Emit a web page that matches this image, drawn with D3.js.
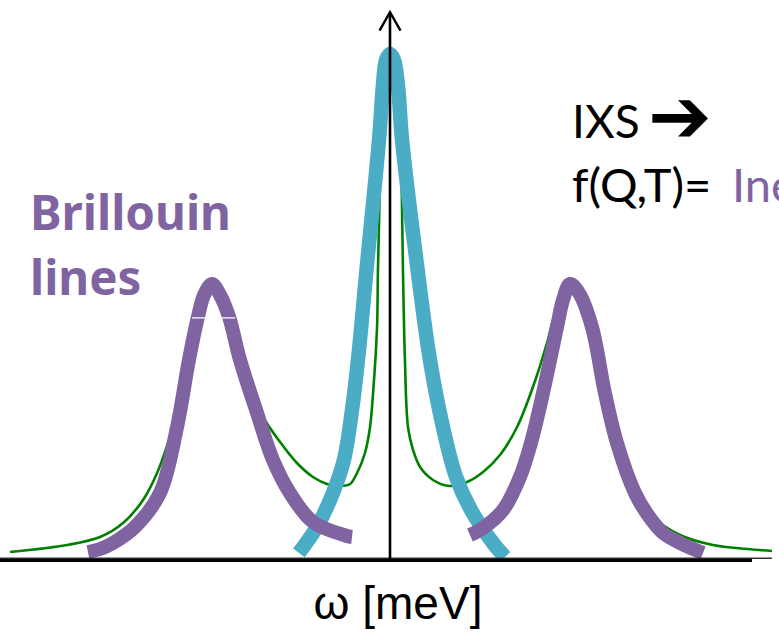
<!DOCTYPE html>
<html>
<head>
<meta charset="utf-8">
<script src="https://cdn.jsdelivr.net/npm/d3@7"></script>
<style>
  html, body { margin: 0; padding: 0; background: #ffffff; }
  svg { display: block; }
</style>
</head>
<body>
<div id="chart"></div>
<script>
// ---------------- DATA (ω in meV, intensity in arbitrary units) ----------------
// Total measured spectrum (thin green line)
const totalOmega = [-21.11,-17.94,-16.11,-14.83,-13.72,-12.94,-12.22,-11.67,-11.17,-10.67,-10.28,-9.89,-9.44,-8.94,-8.33,-7.78,-7.06,-6.11,-5.17,-4.28,-3.5,-2.78,-2.22,-1.83,-1.39,-1.11,-0.94,-0.72,-0.67,-0.5,-0.39,0,0.5,0.61,0.72,0.83,1.0,1.28,1.67,2.39,3.33,4.28,5.17,6.11,7.06,7.94,8.72,9.06,9.56,10,10.5,11.22,11.94,12.61,13.17,13.72,14.61,16.11,17.94,19.83,21.22];
const totalInt   = [1.56,2.93,4.49,7.23,11.72,16.99,24.02,29.69,39.06,47.46,52.34,53.91,51.95,47.46,39.06,33.2,27.93,23.05,18.95,16.21,14.84,14.45,14.84,16.99,20.9,25.98,32.62,45.51,56.64,82.03,97.66,100,97.66,82.03,56.64,39.06,25.98,21.48,18.16,15.63,14.45,15.23,17.19,20.51,25.98,33.79,42.38,46.88,51.76,53.91,52.15,45.51,32.62,22.85,17.58,13.09,8.4,4.88,2.93,2.15,1.76];

// Central (quasi-elastic) peak (thick cyan line)
const centralOmega = [-5.06,-4.06,-3.17,-2.56,-2.11,-1.78,-1.28,-0.61,-0.39,-0.22,0,0.22,0.44,0.67,1.5,2.22,2.94,3.67,4.5,5.72,6.39];
const centralInt   = [1.37,6.45,13.09,19.53,29.3,39.06,57.62,82.03,92.77,97.66,98.83,97.66,92.77,82.03,57.62,39.06,25.98,16.21,9.77,3.32,0.59];

// Brillouin lines (thick purple lines)
const stokesOmega = [-16.78,-16.11,-15.39,-14.17,-12.78,-11.83,-11.17,-10.67,-10.33,-9.89,-9.44,-8.94,-8.33,-7.44,-6.5,-5.56,-4.28,-2.39,-2.11];
const stokesInt   = [1.56,2.15,3.32,6.45,13.09,25.98,39.06,47.46,51.76,53.91,51.76,47.46,39.06,29.3,19.53,13.09,7.42,4.69,4.49];
const antiOmega   = [4.44,5.17,6.28,7.22,7.83,8.5,9.28,9.61,10,10.5,11.22,11.94,12.61,13.61,14.33,15.17,16.11,17.39];
const antiInt     = [4.88,6.25,9.77,16.21,22.85,32.62,45.51,50.78,53.91,52.15,45.51,32.62,22.85,13.09,8.79,5.27,3.32,1.37];

// Axis extents (data units)
const axisOmega     = [-21.67, 20.11];
const axisOmegaThin = [-21.67, 21.22];
const axisIntTop    = 107.0;

// Texts
const xLabel       = "ω [meV]";
const ixsLabel     = "IXS";
const ixsArrow     = "➔";
const fLabelBlack  = "f(Q,T)=";
const fLabelPurple = "Inelastic";
const brillouinLabel = ["Brillouin", "lines"];

// ---------------- DRAWING ----------------
const W = 779, H = 635;
const x = d3.scaleLinear().domain([-10, 10]).range([210, 570]);
const y = d3.scaleLinear().domain([0, 100]).range([560, 48]);

const svg = d3.select("#chart").append("svg")
  .attr("width", W).attr("height", H)
  .attr("viewBox", `0 0 ${W} ${H}`)
  .style("overflow", "hidden");

svg.append("rect").attr("width", W).attr("height", H).attr("fill", "#ffffff");

const line = d3.line()
  .x(d => x(d[0])).y(d => y(d[1]))
  .curve(d3.curveCatmullRom.alpha(0.5));

const zip = (a, b) => a.map((v, i) => [v, b[i]]);

const GREEN = "#008000", PURPLE = "#8064A2", CYAN = "#4BACC6";

// total (green) at bottom
svg.append("path").datum(zip(totalOmega, totalInt))
  .attr("d", line).attr("fill", "none")
  .attr("stroke", GREEN).attr("stroke-width", 2.6);

// central peak (cyan)
svg.append("path").datum(zip(centralOmega, centralInt))
  .attr("d", line).attr("fill", "none")
  .attr("stroke", CYAN).attr("stroke-width", 14.5)
  .attr("stroke-linejoin", "round");

// Brillouin lines (purple)
[zip(stokesOmega, stokesInt), zip(antiOmega, antiInt)].forEach(s => {
  svg.append("path").datum(s)
    .attr("d", line).attr("fill", "none")
    .attr("stroke", PURPLE).attr("stroke-width", 14)
    .attr("stroke-linejoin", "round");
});

// small white rendering seam across the left Brillouin line
svg.append("line")
  .attr("x1", x(-11.0)).attr("x2", x(-8.6))
  .attr("y1", y(47.3)).attr("y2", y(47.3))
  .attr("stroke", "#ffffff").attr("stroke-width", 1.2);

// horizontal axis (thin + thick)
svg.append("line")
  .attr("x1", x(axisOmegaThin[0])).attr("x2", x(axisOmegaThin[1]))
  .attr("y1", y(0) - 1.8).attr("y2", y(0) - 1.8)
  .attr("stroke", "#333").attr("stroke-width", 1.4);
svg.append("line")
  .attr("x1", x(axisOmega[0])).attr("x2", x(axisOmega[1]))
  .attr("y1", y(0) + 0.3).attr("y2", y(0) + 0.3)
  .attr("stroke", "#000").attr("stroke-width", 3.2);

// vertical axis with open arrow head
svg.append("line")
  .attr("x1", x(0)).attr("x2", x(0))
  .attr("y1", y(0) + 1).attr("y2", y(axisIntTop))
  .attr("stroke", "#000").attr("stroke-width", 2.6);
svg.append("path")
  .attr("d", `M${x(0) - 10.5},${y(axisIntTop) + 18.5} L${x(0)},${y(axisIntTop)} L${x(0) + 10.5},${y(axisIntTop) + 18.5}`)
  .attr("fill", "none").attr("stroke", "#000").attr("stroke-width", 2.4)
  .attr("stroke-linejoin", "miter");

// texts
svg.append("text")
  .attr("x", 398).attr("y", 619)
  .attr("text-anchor", "middle")
  .attr("font-family", "'Liberation Sans', Arial, sans-serif")
  .attr("font-size", 46).attr("fill", "#000")
  .text(xLabel);

const it = svg.append("text")
  .attr("x", 572).attr("y", 138)
  .attr("font-family", "Lato, 'Open Sans', sans-serif")
  .attr("font-size", 46).attr("fill", "#000");
it.append("tspan").text(ixsLabel);
it.append("tspan").attr("x", 648).attr("y", 142)
  .attr("font-family", "'DejaVu Sans', sans-serif")
  .attr("font-size", 76).text(ixsArrow);

const ft = svg.append("text")
  .attr("x", 572).attr("y", 202)
  .attr("font-family", "Lato, 'Open Sans', sans-serif")
  .attr("font-size", 47).attr("fill", "#000");
ft.append("tspan").text(fLabelBlack);
ft.append("tspan").attr("x", 732).attr("fill", PURPLE).text(fLabelPurple);

const bl = svg.append("text")
  .attr("font-family", "'Noto Sans', sans-serif")
  .attr("font-weight", 700)
  .attr("font-size", 47.5).attr("fill", PURPLE);
bl.append("tspan").attr("x", 30).attr("y", 230).text(brillouinLabel[0]);
bl.append("tspan").attr("x", 30).attr("y", 295).text(brillouinLabel[1]);
</script>
</body>
</html>
